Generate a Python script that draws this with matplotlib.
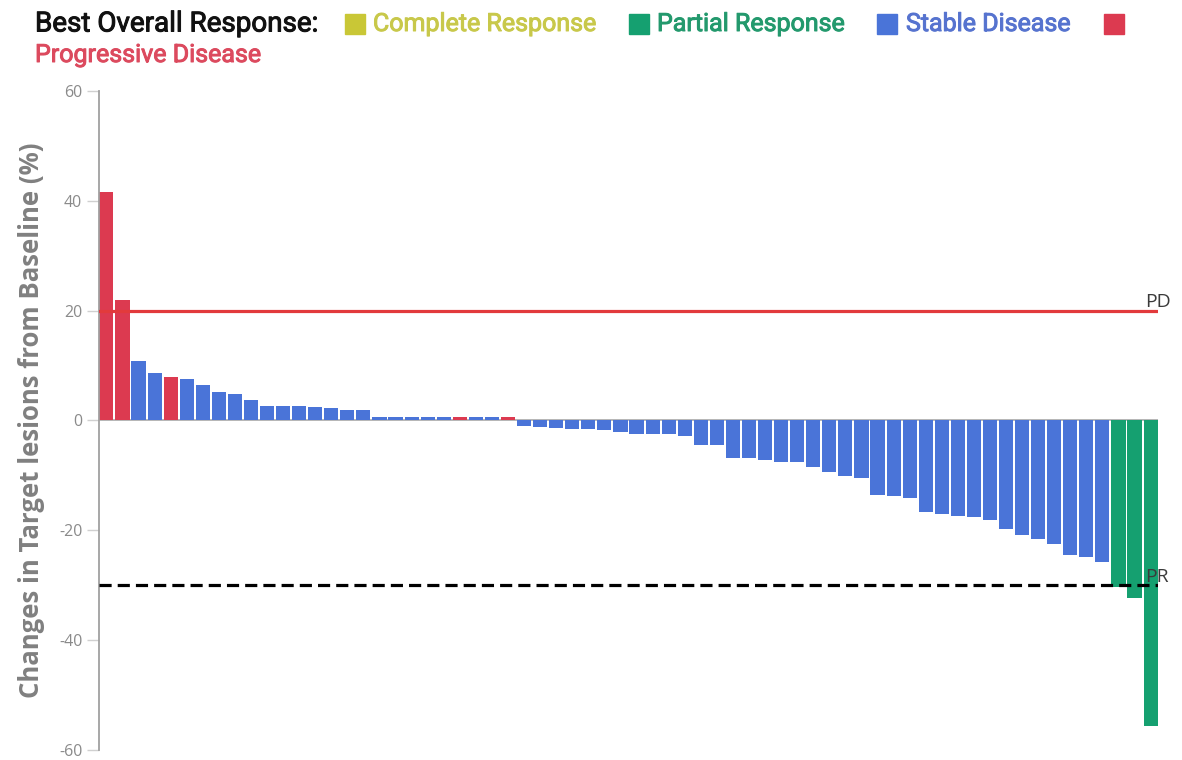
import matplotlib
matplotlib.use("Agg")
import matplotlib.pyplot as plt
from matplotlib.patches import Rectangle
import matplotlib.patheffects as pe

plt.rcParams["axes.unicode_minus"] = False

# Per-patient best change in target lesion size (%) and best overall response
changes = [41.6, 21.9, 10.9, 8.7, 7.9, 7.6, 6.5, 5.2, 4.9, 3.8,
           2.7, 2.7, 2.7, 2.5, 2.2, 2.0, 2.0, 0.7, 0.7, 0.7,
           0.7, 0.7, 0.7, 0.7, 0.7, 0.7, -1.0, -1.2, -1.3, -1.5,
           -1.5, -1.8, -2.1, -2.5, -2.5, -2.5, -2.8, -4.5, -4.5, -6.8,
           -6.8, -7.2, -7.5, -7.6, -8.5, -9.3, -10.1, -10.4, -13.6, -13.8,
           -14.2, -16.6, -17.1, -17.4, -17.6, -18.1, -19.7, -20.8, -21.6, -22.4,
           -24.5, -24.8, -25.7, -30.4, -32.4, -55.6]
responses = (["PD", "PD", "SD", "SD", "PD"] + ["SD"] * 17
             + ["PD", "SD", "SD", "PD", "SD"] + ["SD"] * 36 + ["PR"] * 3)
responses = responses[:len(changes)]

legend_labels = ["Complete Response", "Partial Response", "Stable Disease", "Progressive Disease"]
legend_keys = ["CR", "PR", "SD", "PD"]
bar_colors = {"CR": "#c9c736", "PR": "#15a070", "SD": "#4a74d8", "PD": "#dc3a50"}
text_colors = {"CR": "#c8c84a", "PR": "#23996d", "SD": "#5673cf", "PD": "#dc4a5e"}

yticks = [60, 40, 20, 0, -20, -40, -60]
pd_threshold = 20
pr_threshold = -30

W, H = 1182, 760
fig = plt.figure(figsize=(W / 100, H / 100), dpi=100)
ax_left, ax_right, ax_top, ax_bottom = 99, 1158, 91, 750
ax = fig.add_axes([ax_left / W, 1 - ax_bottom / H,
                   (ax_right - ax_left) / W, (ax_bottom - ax_top) / H])

x = list(range(len(changes)))
ax.axhline(0, color="#b0b0b0", lw=1.3, zorder=1)
ax.bar(x, changes, width=0.88, color=[bar_colors[r] for r in responses],
       zorder=2, linewidth=0)

ax.axhline(pd_threshold, color="#e23a3c", lw=2.3, zorder=3)
pr_line = ax.axhline(pr_threshold, color="black", lw=2.3, zorder=3)
pr_line.set_dashes((3.8, 1.9))

ax.set_xlim(-0.46, len(changes) - 0.54)
ax.set_ylim(-60, 60)
ax.set_yticks(yticks)
ax.set_xticks([])
for s in ["top", "right", "bottom"]:
    ax.spines[s].set_visible(False)
ax.spines["left"].set_color("#a0a0a0")
ax.spines["left"].set_linewidth(1.3)
ax.tick_params(axis="y", length=9, width=1, color="#d0d0d0",
               labelcolor="#8a8a8a", labelsize=11.5, pad=3)
for lab in ax.get_yticklabels():
    lab.set_family("Open Sans")

ax.set_ylabel("Changes in Target lesions from Baseline (%)", family="Open Sans",
              fontsize=18.5, fontweight="bold", color="#808080", labelpad=10)

x_ref = (1145 - ax_left) / (ax_right - ax_left)
for yv, name in [(pd_threshold, "PD"), (pr_threshold, "PR")]:
    ax.annotate(name, xy=(x_ref, yv), xycoords=ax.get_yaxis_transform(),
                xytext=(0, 2.5), textcoords="offset points",
                ha="left", va="baseline", fontsize=14, family="Open Sans",
                color="#3a3a3a", zorder=4)

# Legend header built from text and squares in pixel coordinates
def px(xp, yp):
    return xp / W, 1 - yp / H

def medium(color):
    return [pe.withStroke(linewidth=0.7, foreground=color)]

fs = 18
fig.text(*px(35, 24), "Best Overall Response:", family="Roboto",
         fontsize=20, color="#111111", va="center", ha="left",
         path_effects=medium("#111111"))
items = [("CR", 345, 24), ("PR", 629, 24), ("SD", 877, 24), ("PD", 1104, 24)]
label_pos = {"CR": (373, 24), "PR": (657, 24), "SD": (906, 24), "PD": (35, 55)}
for (key, sx, sy), lab in zip(items, legend_labels):
    fig.patches.append(Rectangle(px(sx, sy + 10), 20 / W, 20 / H,
                                 transform=fig.transFigure, color=bar_colors[key]))
    lx, ly = label_pos[key]
    fig.text(*px(lx, ly), lab, family="Roboto", fontsize=fs,
             color=text_colors[key], va="center", ha="left",
             path_effects=medium(text_colors[key]))

fig.savefig("out.png", dpi=100, facecolor="white")
